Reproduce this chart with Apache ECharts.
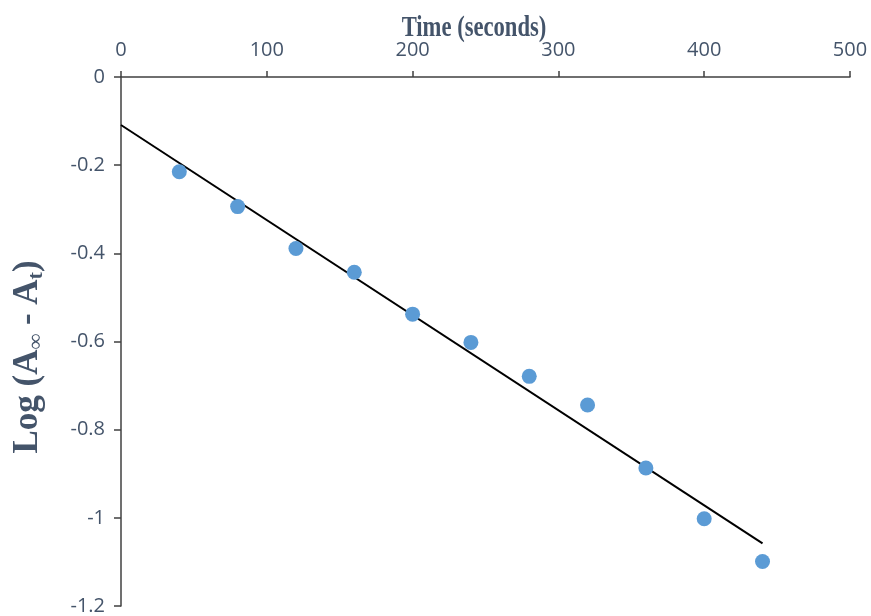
<!DOCTYPE html>
<html>
<head>
<meta charset="utf-8">
<script src="https://cdn.jsdelivr.net/npm/echarts@6/dist/echarts.min.js"></script>
<style>html,body{margin:0;padding:0;background:#fff}#c{width:871px;height:616px}</style>
</head>
<body>
<div id="c"></div>
<script>
const timeSeconds = [40, 80, 120, 160, 200, 240, 280, 320, 360, 400, 440];
const logValues = [-0.215, -0.294, -0.389, -0.443, -0.538, -0.602, -0.679, -0.744, -0.887, -1.002, -1.099];
const xTitle = 'Time (seconds)';
const trendRange = [0, 440];

// least-squares trendline from the data
const n = timeSeconds.length;
const mx = timeSeconds.reduce((a, b) => a + b, 0) / n;
const my = logValues.reduce((a, b) => a + b, 0) / n;
let sxy = 0, sxx = 0;
for (let i = 0; i < n; i++) { sxy += (timeSeconds[i] - mx) * (logValues[i] - my); sxx += (timeSeconds[i] - mx) ** 2; }
const slope = sxy / sxx, intercept = my - slope * mx;
const trend = trendRange.map(x => [x, intercept + slope * x]);

const labelColor = '#44546a';
const axisColor = '#404040';
const chart = echarts.init(document.getElementById('c'));
chart.setOption({
  animation: false,
  grid: { left: 121, right: 21, top: 77, bottom: 8, containLabel: false },
  xAxis: {
    type: 'value', position: 'top', min: 0, max: 500, interval: 100,
    axisLine: { show: true, onZero: false, lineStyle: { color: axisColor, width: 1.5 } },
    axisTick: { show: true, length: 6, inside: false, lineStyle: { color: axisColor, width: 1.5 } },
    axisLabel: { color: labelColor, fontSize: 20, fontFamily: 'Open Sans', margin: 17 },
    splitLine: { show: false }
  },
  yAxis: {
    type: 'value', min: -1.2, max: 0, interval: 0.2,
    axisLine: { show: true, onZero: false, lineStyle: { color: axisColor, width: 1.5 } },
    axisTick: { show: true, length: 7, lineStyle: { color: axisColor, width: 1.5 } },
    axisLabel: { color: labelColor, fontSize: 20, fontFamily: 'Open Sans', margin: 16,
      formatter: v => String(Math.round(v * 10) / 10) },
    splitLine: { show: false }
  },
  graphic: [
    { type: 'text', x: 474, y: 29, scaleX: 0.78, silent: true,
      style: { text: xTitle, fill: labelColor, font: 'bold 29px "Liberation Serif"', align: 'center', verticalAlign: 'middle' } },
    { type: 'text', x: 28, y: 357, rotation: Math.PI / 2, silent: true,
      style: {
        text: '{m|Log (A}{s|∞}{m| - A}{s|t}{m|)}',
        align: 'center', verticalAlign: 'middle',
        rich: {
          m: { fill: labelColor, fontSize: 35, fontWeight: 'bold', fontFamily: 'Liberation Serif' },
          s: { fill: labelColor, fontSize: 22, fontWeight: 'bold', fontFamily: 'Liberation Serif', padding: [16, 0, 0, 0] }
        }
      } }
  ],
  series: [
    { type: 'line', data: trend, symbol: 'none', lineStyle: { color: '#000', width: 2 }, z: 2 },
    { type: 'scatter', data: timeSeconds.map((t, i) => [t, logValues[i]]), symbolSize: 15,
      itemStyle: { color: '#5b9bd5', opacity: 1 }, z: 3 }
  ]
});
</script>
</body>
</html>
